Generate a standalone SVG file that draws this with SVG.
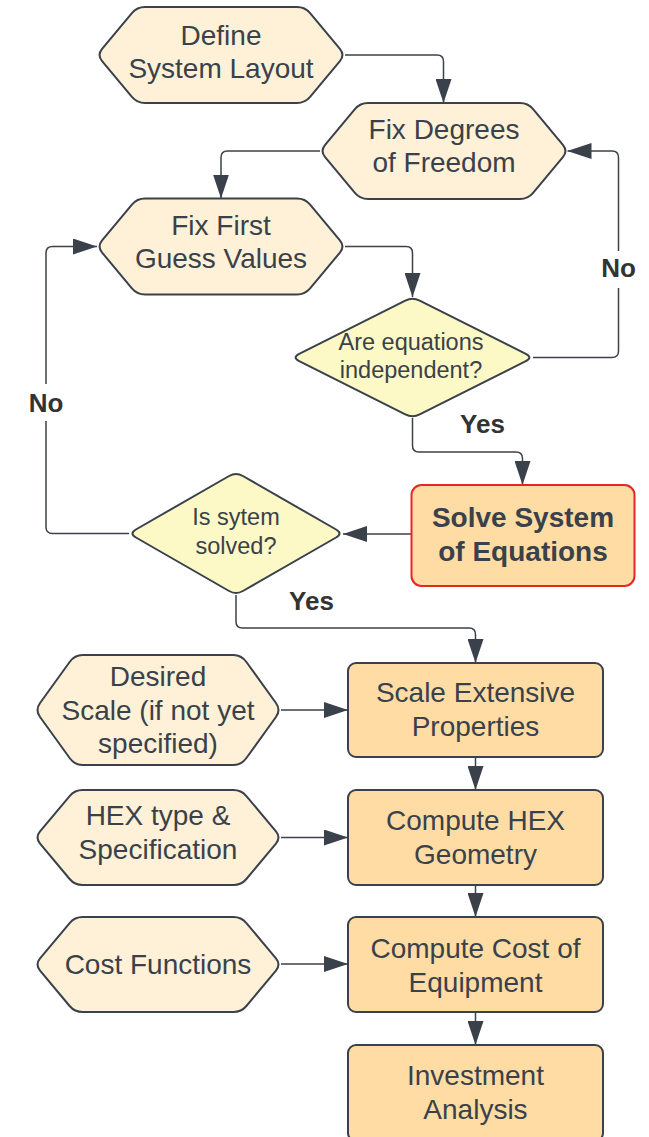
<svg xmlns="http://www.w3.org/2000/svg" xmlns:xlink="http://www.w3.org/1999/xlink" width="649" height="1137" viewBox="0 0 649 1137">
<style>
.hex{fill:#fef1d7;stroke:#3a414a;stroke-width:2;}
.dia{fill:#fcf9c6;stroke:#3a414a;stroke-width:2;}
.box{fill:#fedca4;stroke:#3a414a;stroke-width:2;}
.solve{fill:#fedca4;stroke:#e5262a;stroke-width:2;}
.t{font-family:"Liberation Sans",Arial,sans-serif;font-size:28px;fill:#3a414a;text-anchor:middle;}
.td{font-family:"Liberation Sans",Arial,sans-serif;font-size:23.5px;fill:#3a414a;text-anchor:middle;}
.tb{font-family:"Liberation Sans",Arial,sans-serif;font-size:28px;font-weight:bold;fill:#3a414a;text-anchor:middle;}
.lbl{font-family:"Liberation Sans",Arial,sans-serif;font-size:26px;font-weight:bold;fill:#333333;text-anchor:middle;}
.c{fill:none;stroke:#3a414a;stroke-width:1.5;marker-end:url(#arr);}
</style>
<defs>
<marker id="arr" markerUnits="userSpaceOnUse" markerWidth="24" markerHeight="16" refX="24" refY="8" orient="auto">
<path d="M0,0 L24,8 L0,16 Z" fill="#3a414a"/>
</marker>
<path id="hexshape" d="M 5.1,41.9 L 34.9,6.1 Q 40,0 48,0 L 200,0 Q 208,0 213.1,6.1 L 242.9,41.9 Q 248,48 242.9,54.1 L 213.1,89.9 Q 208,96 200,96 L 48,96 Q 40,96 34.9,89.9 L 5.1,54.1 Q 0,48 5.1,41.9 Z" vector-effect="non-scaling-stroke"/>
</defs>
<rect width="649" height="1137" fill="#ffffff"/>

<g id="connectors">
<path class="c" d="M 345,55 L 437,55 Q 443.5,55 443.5,61.5 L 443.5,103"/>
<path class="c" d="M 320,151 L 227.5,151 Q 221,151 221,157.5 L 221,198.5"/>
<path class="c" d="M 345,246.5 L 406,246.5 Q 412.5,246.5 412.5,253 L 412.5,297"/>
<path class="c" d="M 412.5,418 L 412.5,445.5 Q 412.5,452 419,452 L 516,452 Q 522.5,452 522.5,458.5 L 522.5,485"/>
<path class="c" d="M 533,357.5 L 612,357.5 Q 618.5,357.5 618.5,351 L 618.5,157.5 Q 618.5,151 612,151 L 567.5,151"/>
<path class="c" d="M 411.5,534 L 343,534"/>
<path class="c" d="M 129,533.5 L 52.5,533.5 Q 46,533.5 46,527 L 46,253 Q 46,246.5 52.5,246.5 L 97,246.5"/>
<path class="c" d="M 236,595 L 236,621.5 Q 236,628 242.5,628 L 469,628 Q 475.5,628 475.5,634.5 L 475.5,663"/>
<path class="c" d="M 475.5,757 L 475.5,790"/>
<path class="c" d="M 475.5,885 L 475.5,917"/>
<path class="c" d="M 475.5,1012 L 475.5,1045"/>
<path class="c" d="M 281,710 L 348,710"/>
<path class="c" d="M 281,837.5 L 348,837.5"/>
<path class="c" d="M 281,964 L 348,964"/>
<rect x="598" y="251" width="41" height="37" fill="#ffffff"/>
<text class="lbl" x="618.5" y="277">No</text>
<rect x="25" y="384" width="42" height="37" fill="#ffffff"/>
<text class="lbl" x="46" y="412">No</text>
<text class="lbl" x="482.5" y="433">Yes</text>
<text class="lbl" x="311.5" y="610">Yes</text>
</g>

<g id="define-layout">
<use xlink:href="#hexshape" href="#hexshape" class="hex" transform="translate(97,7)"/>
<text class="t" x="221" y="44.5">Define</text>
<text class="t" x="221" y="77.5">System Layout</text>
</g>

<g id="fix-dof">
<use xlink:href="#hexshape" href="#hexshape" class="hex" transform="translate(320,103)"/>
<text class="t" x="444" y="138.5">Fix Degrees</text>
<text class="t" x="444" y="172">of Freedom</text>
</g>

<g id="fix-guess">
<use xlink:href="#hexshape" href="#hexshape" class="hex" transform="translate(97,198.5)"/>
<text class="t" x="221" y="235">Fix First</text>
<text class="t" x="221" y="268">Guess Values</text>
</g>

<g id="eq-independent">
<path class="dia" d="M 405.3,300.6 Q 412.5,297 419.7,300.6 L 525.8,353.9 Q 533,357.5 525.8,361.1 L 419.7,414.4 Q 412.5,418 405.3,414.4 L 299.2,361.1 Q 292,357.5 299.2,353.9 Z"/>
<text class="td" x="411" y="350">Are equations</text>
<text class="td" x="411" y="377.5">independent?</text>
</g>

<g id="solve-system">
<rect class="solve" x="411.5" y="485" width="223" height="101" rx="10"/>
<text class="tb" x="523" y="526.5">Solve System</text>
<text class="tb" x="523" y="560.5">of Equations</text>
</g>

<g id="system-solved">
<path class="dia" d="M 229.1,476 Q 236,472 242.9,476 L 336.1,529.5 Q 343,533.5 336.1,537.5 L 242.9,591 Q 236,595 229.1,591 L 135.9,537.5 Q 129,533.5 135.9,529.5 Z"/>
<text class="td" x="236" y="525">Is sytem</text>
<text class="td" x="236" y="554">solved?</text>
</g>

<g id="desired-scale">
<use xlink:href="#hexshape" href="#hexshape" class="hex" transform="translate(35,655) scale(0.992,1.146)"/>
<text class="t" x="158" y="686">Desired</text>
<text class="t" x="158" y="719.5">Scale (if not yet</text>
<text class="t" x="158" y="753">specified)</text>
</g>

<g id="scale-extensive">
<rect class="box" x="348" y="663" width="255" height="94" rx="8"/>
<text class="t" x="475.5" y="702">Scale Extensive</text>
<text class="t" x="475.5" y="736">Properties</text>
</g>

<g id="hex-type">
<use xlink:href="#hexshape" href="#hexshape" class="hex" transform="translate(35,790) scale(0.992,0.99)"/>
<text class="t" x="158" y="825">HEX type &amp;</text>
<text class="t" x="158" y="858.5">Specification</text>
</g>

<g id="hex-geometry">
<rect class="box" x="348" y="790" width="255" height="95" rx="8"/>
<text class="t" x="475.5" y="829.5">Compute HEX</text>
<text class="t" x="475.5" y="863.5">Geometry</text>
</g>

<g id="cost-functions">
<use xlink:href="#hexshape" href="#hexshape" class="hex" transform="translate(35,917) scale(0.992,0.99)"/>
<text class="t" x="158" y="974">Cost Functions</text>
</g>

<g id="cost-equipment">
<rect class="box" x="348" y="917" width="255" height="95" rx="8"/>
<text class="t" x="475.5" y="957.5">Compute Cost of</text>
<text class="t" x="475.5" y="991.5">Equipment</text>
</g>

<g id="investment">
<rect class="box" x="348" y="1045" width="255" height="96" rx="8"/>
<text class="t" x="475.5" y="1085">Investment</text>
<text class="t" x="475.5" y="1119">Analysis</text>
</g>
</svg>
